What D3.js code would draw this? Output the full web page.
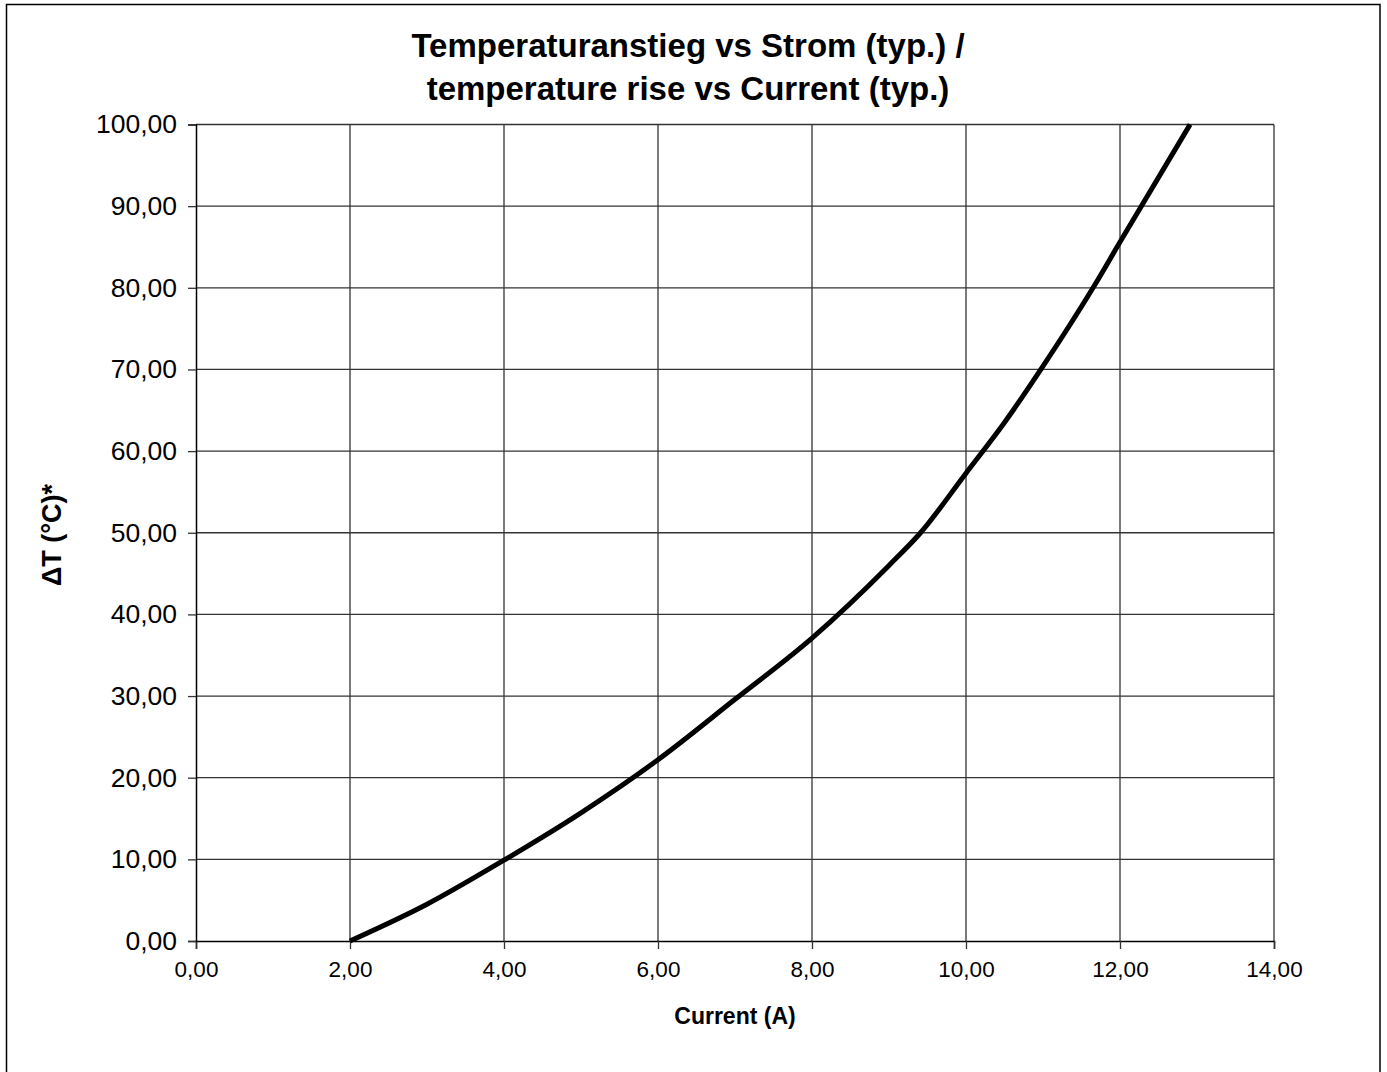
<!DOCTYPE html>
<html>
<head>
<meta charset="utf-8">
<script src="https://cdn.jsdelivr.net/npm/d3@7"></script>
<style>
  body { margin: 0; background: #fff; }
  text { font-family: "Liberation Sans", Arial, sans-serif; fill: #000; }
</style>
</head>
<body>
<div id="chart"></div>
<script>
// values
var current = [2.00, 3.00, 4.00, 5.00, 6.00, 7.00, 8.00, 9.00, 9.41, 10.00, 10.50, 11.00, 11.65, 12.00, 12.91];
var deltaT  = [0.0, 4.5, 9.9, 15.7, 22.2, 29.6, 37.1, 46.0, 50.0, 57.3, 63.5, 70.4, 80.0, 85.6, 100.0];
var xTicks = [0, 2, 4, 6, 8, 10, 12, 14];
var yTicks = [0, 10, 20, 30, 40, 50, 60, 70, 80, 90, 100];
var titleLines = ["Temperaturanstieg vs Strom (typ.) /", "temperature rise vs Current (typ.)"];

var svgWidth = 1387;
var svgHeight = 1072;

var margin = { top: 124.5, right: 113, bottom: 131, left: 196 };
var width = svgWidth - margin.left - margin.right;   // 1078
var height = 941 - margin.top;

var svg = d3.select("#chart")
    .append("svg")
    .attr("width", svgWidth)
    .attr("height", svgHeight);

// outer frame
svg.append("rect")
    .attr("x", 6.5)
    .attr("y", 4.5)
    .attr("width", 1373.5)
    .attr("height", 1100)
    .attr("fill", "none")
    .attr("stroke", "#000")
    .attr("stroke-width", 1.5);

// title
svg.append("g")
    .selectAll("text")
    .data(titleLines)
    .enter()
    .append("text")
    .attr("x", 688)
    .attr("y", (d, i) => 57 + i * 43)
    .attr("text-anchor", "middle")
    .attr("font-size", "33px")
    .attr("font-weight", "bold")
    .text(d => d);

var chartGroup = svg.append("g")
    .attr("transform", `translate(${margin.left}, ${margin.top})`);

var xScale = d3.scaleLinear().domain([0, 14]).range([0, width]);
var yScale = d3.scaleLinear().domain([0, 100]).range([height, 0]);

// gridlines
chartGroup.append("g")
    .selectAll("line")
    .data(yTicks.slice(1))
    .enter()
    .append("line")
    .attr("x1", 0)
    .attr("x2", width)
    .attr("y1", d => yScale(d))
    .attr("y2", d => yScale(d))
    .attr("stroke", "#333")
    .attr("stroke-width", 1.3);

chartGroup.append("g")
    .selectAll("line")
    .data(xTicks.slice(1))
    .enter()
    .append("line")
    .attr("x1", d => xScale(d))
    .attr("x2", d => xScale(d))
    .attr("y1", 0)
    .attr("y2", height)
    .attr("stroke", "#333")
    .attr("stroke-width", 1.3);

var fmt = d => d3.format(".2f")(d).replace(".", ",");

// axes
var bottomAxis = d3.axisBottom(xScale)
    .tickValues(xTicks)
    .tickSize(8)
    .tickPadding(12)
    .tickFormat(fmt);

var leftAxis = d3.axisLeft(yScale)
    .tickValues(yTicks)
    .tickSize(8)
    .tickPadding(11)
    .tickFormat(fmt);

var xAxisG = chartGroup.append("g")
    .attr("transform", `translate(0, ${height})`)
    .call(bottomAxis);
xAxisG.selectAll("text")
    .attr("font-size", "22.5px")
    .attr("font-family", "Liberation Sans, Arial, sans-serif");

var yAxisG = chartGroup.append("g")
    .call(leftAxis);
yAxisG.selectAll("text")
    .attr("font-size", "26.5px")
    .attr("font-family", "Liberation Sans, Arial, sans-serif");

chartGroup.selectAll(".domain")
    .attr("stroke", "#000")
    .attr("stroke-width", 1.5);
chartGroup.selectAll(".tick line")
    .attr("stroke", "#333")
    .attr("stroke-width", 1.3);

// curve
var points = current.map((c, i) => ({ x: c, y: deltaT[i] }));

var line = d3.line()
    .x(d => xScale(d.x))
    .y(d => yScale(d.y))
    .curve(d3.curveMonotoneX);

chartGroup.append("path")
    .datum(points)
    .attr("d", line)
    .attr("fill", "none")
    .attr("stroke", "#000")
    .attr("stroke-width", 5);

// axis labels
chartGroup.append("text")
    .attr("x", width / 2)
    .attr("y", height + 83)
    .attr("text-anchor", "middle")
    .attr("font-size", "23px")
    .attr("font-weight", "bold")
    .text("Current (A)");

chartGroup.append("text")
    .attr("transform", `translate(${61 - margin.left}, ${535 - margin.top}) rotate(-90)`)
    .attr("text-anchor", "middle")
    .attr("font-size", "27px")
    .attr("font-weight", "bold")
    .text("\u0394T (°C)*");
</script>
</body>
</html>
